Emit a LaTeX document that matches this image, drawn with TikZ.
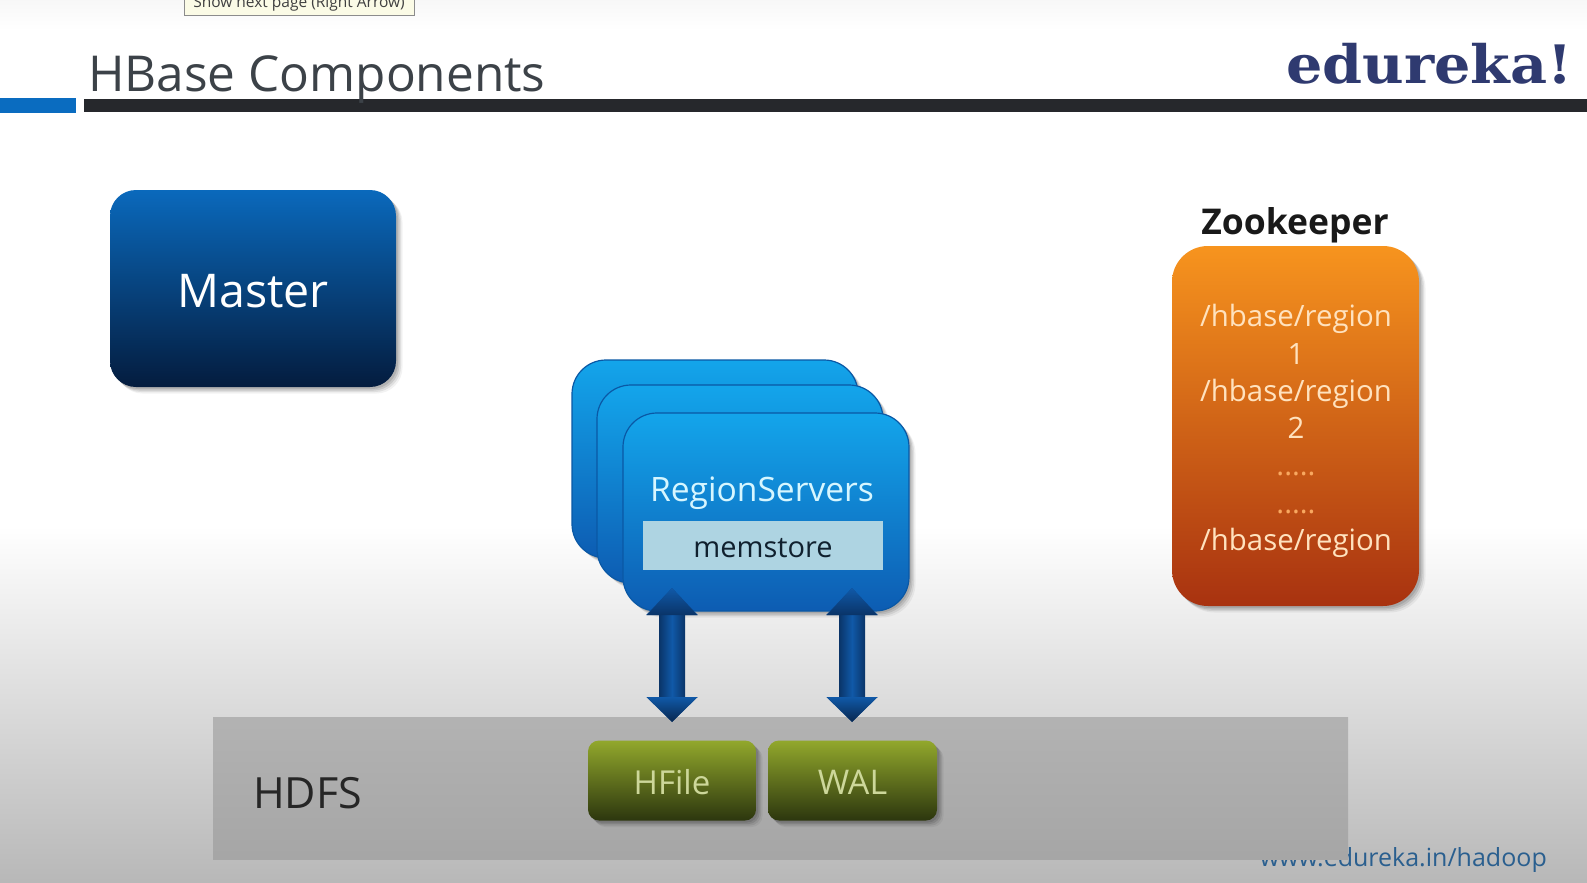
\documentclass[tikz,border=0pt]{standalone}
\usepackage{fontspec}
\setmainfont{Open Sans}
\newfontfamily\logofont{DejaVu Serif}
\usetikzlibrary{arrows.meta,shadows}
\definecolor{titlegray}{HTML}{3C4248}
\definecolor{barblue}{HTML}{0A6CC0}
\definecolor{bardark}{HTML}{26282C}
\definecolor{logoblue}{HTML}{2F3A70}
\definecolor{urlblue}{HTML}{2A5F8F}
\definecolor{arrowblue}{HTML}{0D4A8F}
\definecolor{arrowdark}{HTML}{0A3468}
\definecolor{arrowlight}{HTML}{1059A8}
\definecolor{arrowblack}{HTML}{08264E}
\definecolor{mastertop}{HTML}{0A69BC}
\definecolor{mastermid}{HTML}{075397}
\definecolor{masterbot}{HTML}{041C3E}
\definecolor{rsedge}{HTML}{0A58A5}
\definecolor{rstop}{HTML}{13A5EB}
\definecolor{rsbot}{HTML}{0D5CB2}
\definecolor{zktop}{HTML}{F7941E}
\definecolor{zkbot}{HTML}{A83210}
\definecolor{filetop}{HTML}{92A82C}
\definecolor{filebot}{HTML}{2C360E}
\definecolor{filetext}{HTML}{CDD79A}
\definecolor{tipfill}{HTML}{FBFBE6}
\definecolor{rstext}{HTML}{D6F6FF}
\definecolor{memfill}{HTML}{AED4E2}
\definecolor{memtext}{HTML}{10202E}
\definecolor{zktext}{HTML}{FFE2BE}
\definecolor{zkdots}{HTML}{F8A860}
\tikzset{
  softshadow/.style={
    general shadow={shadow xshift=2pt,shadow yshift=-2pt,fill=black,fill opacity=.10},
    general shadow={shadow xshift=3.5pt,shadow yshift=-3.5pt,fill=black,fill opacity=.10},
    general shadow={shadow xshift=5pt,shadow yshift=-5pt,fill=black,fill opacity=.08},
    general shadow={shadow xshift=6.5pt,shadow yshift=-6.5pt,fill=black,fill opacity=.05}},
  panel/.style={inner sep=0pt,outer sep=0pt,softshadow},
  masterbox/.style={panel,rounded corners=26pt,minimum width=286pt,minimum height=197pt,
    top color=mastertop,middle color=mastermid,bottom color=masterbot},
  rsbox/.style={panel,rounded corners=34pt,minimum width=286pt,minimum height=198pt,
    draw=rsedge,line width=1.2pt,top color=rstop,bottom color=rsbot},
  zkbox/.style={panel,rounded corners=36pt,minimum width=247pt,minimum height=360pt,
    top color=zktop,bottom color=zkbot},
  filebox/.style={panel,rounded corners=11pt,minimum height=80pt,
    top color=filetop,bottom color=filebot,text=filetext},
  bigarrow/.style={line width=26pt,color=arrowblue,
    {Triangle[width=50pt,length=27pt]}-{Triangle[width=50pt,length=25pt]}},
  shaftshade/.style={left color=arrowdark,right color=arrowdark,middle color=arrowlight},
  headtop/.style={top color=arrowlight,bottom color=arrowdark},
  headbot/.style={top color=arrowlight,bottom color=arrowblack},
}
\begin{document}
\begin{tikzpicture}[x=1pt,y=-1pt]
\useasboundingbox (0,0) rectangle (1587,883);
\clip (0,0) rectangle (1587,883);
% page background
\fill[white] (0,0) rectangle (1587,530);
\shade[top color=black!3,bottom color=white] (0,0) rectangle (1587,30);
\shade[top color=white,bottom color=black!28] (0,526) rectangle (1587,883);
% tooltip
\node[draw=black!45,fill=tipfill,line width=1pt,inner sep=0pt,outer sep=0pt,
  minimum width=230pt,minimum height=30pt,anchor=center] (tip) at (299,1) {};
\node[anchor=base,text=black!75,inner sep=0pt] (tiptext) at (299,8) {\fontsize{15.5}{18}\selectfont Show next page (Right Arrow)};
% header
\fill[barblue] (0,98) rectangle (76,113);
\fill[bardark] (84,99) rectangle (1587,112);
\node[anchor=base west,inner sep=0pt,text=titlegray] (title) at (88,91) {\fontsize{49.5}{58}\selectfont HBase Components};
\node[anchor=base east,inner sep=0pt,text=logoblue] (logo) at (1573,83) {\scalebox{1.08}[1]{\logofont\bfseries\fontsize{53}{62}\selectfont edureka!}};
% url (partly behind HDFS)
\node[anchor=base east,inner sep=0pt,text=urlblue] (url) at (1547,866) {\fontsize{25}{30}\selectfont www.edureka.in/hadoop};
% HDFS
\node[inner sep=0pt,outer sep=0pt,minimum width=1135pt,minimum height=142pt,
  top color=black!30,bottom color=black!35] (hdfs) at (780.5,788) {};
\node[anchor=base west,inner sep=0pt,text=black!85] (hdfslabel) at (253,808) {\fontsize{43}{50}\selectfont HDFS};
% Master
\node[masterbox] (master) at (253,288.5) {};
\node[anchor=base,inner sep=0pt,text=white] (masterlabel) at (253,307) {\fontsize{46.5}{56}\selectfont Master};
% RegionServers stack
\node[rsbox] (rs3) at (715,459) {};
\node[rsbox] (rs2) at (740,484) {};
\node[rsbox] (rs1) at (766,512) {};
\node[anchor=base,inner sep=0pt,text=rstext] (rslabel) at (762,501) {\fontsize{33.6}{40}\selectfont RegionServers};
\node[fill=memfill,inner sep=0pt,outer sep=0pt,minimum width=240pt,minimum height=49pt] (mem) at (763,545.5) {};
\node[anchor=base,inner sep=0pt,text=memtext] (memlabel) at (763,557) {\fontsize{29}{34}\selectfont memstore};
% HFile and WAL
\node[filebox,minimum width=168pt] (hfile) at (672,780.5) {};
\node[anchor=base,inner sep=0pt,text=filetext] (hfilelabel) at (672,794) {\fontsize{33}{38}\selectfont HFile};
\node[filebox,minimum width=169pt] (wal) at (852.5,780.5) {};
\node[anchor=base,inner sep=0pt,text=filetext] (wallabel) at (852.5,794) {\fontsize{34}{38}\selectfont WAL};
% arrows
\coordinate (a1top) at (672,588);
\coordinate (a1bot) at (672,722);
\coordinate (a2top) at (852,588);
\coordinate (a2bot) at (852,722);
\draw[bigarrow] (a1top) -- (a1bot);
\draw[bigarrow] (a2top) -- (a2bot);
\shade[shaftshade] (659,614) rectangle (685,698);
\shade[shaftshade] (839,614) rectangle (865,698);
\shade[headtop] (a1top) -- (647,615) -- (697,615) -- cycle;
\shade[headtop] (a2top) -- (827,615) -- (877,615) -- cycle;
\shade[headbot] (a1bot) -- (647,697) -- (697,697) -- cycle;
\shade[headbot] (a2bot) -- (827,697) -- (877,697) -- cycle;
% Zookeeper
\node[anchor=base,inner sep=0pt,text=black!90] (zktitle) at (1295,234) {\bfseries\fontsize{35.5}{42}\selectfont Zookeeper};
\node[zkbox] (zk) at (1295.5,426) {};
\node[inner sep=0pt,align=center,text=zktext,font=\fontsize{29.4}{37.3}\selectfont] (zklines) at (1296,431) {/hbase/region\\1\\/hbase/region\\2\\{\color{zkdots}.....}\\{\color{zkdots}.....}\\/hbase/region};
\end{tikzpicture}
\end{document}
